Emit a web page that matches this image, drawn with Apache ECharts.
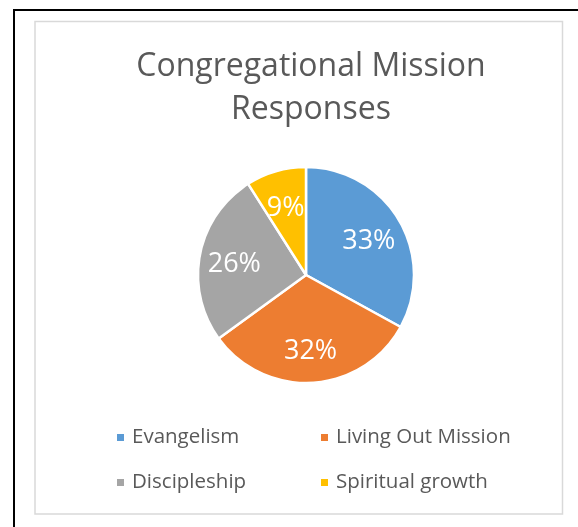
<!DOCTYPE html>
<html>
<head>
<meta charset="utf-8">
<style>
  html, body { margin: 0; padding: 0; background: #fff; }
  #chart { width: 578px; height: 527px; }
</style>
<script src="https://cdn.jsdelivr.net/npm/echarts@6/dist/echarts.min.js"></script>
</head>
<body>
<div id="chart"></div>
<script>
// data
const categories = ["Evangelism", "Living Out Mission", "Discipleship", "Spiritual growth"];
const shares = [33, 32, 26, 9];
const colors = ["#5B9BD5", "#ED7D31", "#A5A5A5", "#FFC000"];

const FONT = "Open Sans";

const chart = echarts.init(document.getElementById("chart"));

const pieData = categories.map((name, i) => ({
    name,
    value: shares[i],
    itemStyle: { color: colors[i] },
}));

const legendCommon = {
    orient: "vertical",
    top: 420,
    icon: "rect",
    itemWidth: 9,
    itemHeight: 9,
    itemGap: 20,
    textStyle: {
        fontFamily: FONT,
        fontSize: 20.5,
        color: "#595959",
        lineHeight: 25,
        padding: [0, 0, 0, 2],
    },
};

chart.setOption({
    backgroundColor: "#fff",
    animation: false,
    title: {
        text: "Congregational Mission\nResponses",
        left: 306,
        textAlign: "center",
        top: 40,
        textStyle: {
            fontFamily: FONT,
            fontSize: 32,
            fontWeight: "normal",
            color: "#595959",
            lineHeight: 43,
        },
    },
    legend: [
        Object.assign({}, legendCommon, { left: 110, data: [categories[0], categories[2]] }),
        Object.assign({}, legendCommon, { left: 314, data: [categories[1], categories[3]] }),
    ],
    graphic: [
        {
            type: "rect",
            shape: { x: 14, y: 10, width: 700, height: 700 },
            style: { fill: "none", stroke: "#000", lineWidth: 2 },
            silent: true,
        },
        {
            type: "rect",
            shape: { x: 35, y: 21.5, width: 527.5, height: 492.5 },
            style: { fill: "none", stroke: "#d9d9d9", lineWidth: 1.5 },
            silent: true,
        },
    ],
    series: [
        {
            type: "pie",
            center: [306, 275],
            radius: [0, 108],
            startAngle: 90,
            clockwise: true,
            itemStyle: { borderColor: "#fff", borderWidth: 2.5 },
            label: { show: false },
            labelLine: { show: false },
            emphasis: { disabled: true },
            data: pieData,
        },
        {
            // label carrier: same slices, invisible, wider so labels sit further out
            type: "pie",
            center: [306, 278],
            radius: [0, 140],
            startAngle: 90,
            clockwise: true,
            silent: true,
            z: 3,
            itemStyle: { color: "rgba(0,0,0,0)", borderWidth: 0 },
            label: {
                show: true,
                position: "inside",
                formatter: "{c}%",
                fontFamily: FONT,
                fontSize: 27,
                color: "#fff",
            },
            labelLine: { show: false },
            emphasis: { disabled: true },
            data: categories.map((name, i) => ({ name, value: shares[i] })),
        },
    ],
});
</script>
</body>
</html>
